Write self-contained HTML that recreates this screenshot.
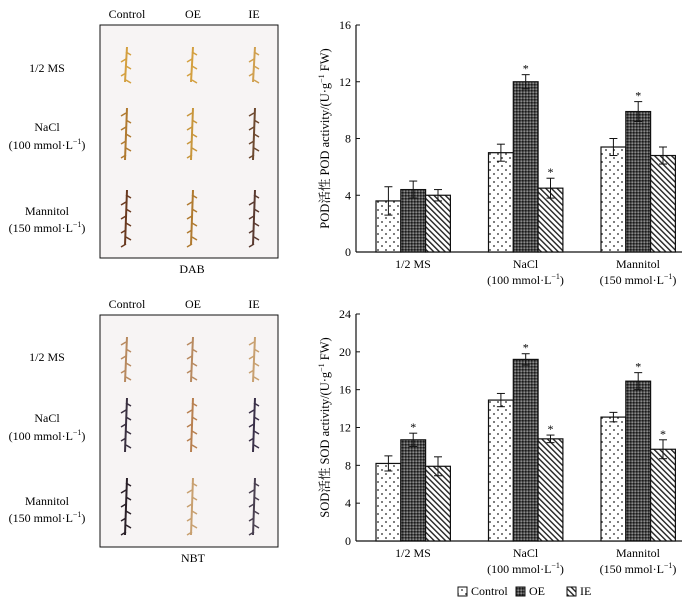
<!DOCTYPE html>
<html><head><meta charset="utf-8"><style>
body{margin:0;background:#fff;}
svg{display:block;font-family:"Liberation Serif","Noto Serif CJK SC",serif;}
</style></head><body>
<svg id="fig" width="700" height="604" viewBox="0 0 700 604">
<defs>
<pattern id="pDots" width="8" height="8" patternUnits="userSpaceOnUse"><rect width="8" height="8" fill="#fff"/><circle cx="2" cy="2" r="0.9" fill="#222"/><circle cx="6" cy="6" r="0.9" fill="#222"/></pattern>
<pattern id="pCross" width="3" height="3" patternUnits="userSpaceOnUse"><rect width="3" height="3" fill="#4a4a4a"/><rect width="1.5" height="1.5" fill="#1a1a1a"/><rect x="1.5" y="1.5" width="1.5" height="1.5" fill="#8a8a8a"/></pattern>
<pattern id="pDiag" width="4" height="4" patternUnits="userSpaceOnUse" patternTransform="rotate(-45)"><rect width="4" height="4" fill="#fff"/><rect width="1.4" height="4" fill="#222"/></pattern>
</defs>
<g>
<text x="127" y="18" font-size="12" text-anchor="middle">Control</text>
<text x="193" y="18" font-size="12" text-anchor="middle">OE</text>
<text x="254" y="18" font-size="12" text-anchor="middle">IE</text>
<rect x="100" y="25" width="178" height="233" fill="#f7f4f4" stroke="#111" stroke-width="1"/>
<text x="47" y="72" font-size="12" text-anchor="middle">1/2 MS</text>
<text x="47" y="131" font-size="12" text-anchor="middle">NaCl</text>
<text x="47" y="149" font-size="12" text-anchor="middle">(100 mmol·L<tspan font-size="8" dy="-5">−1</tspan><tspan dy="5">)</tspan></text>
<text x="47" y="215" font-size="12" text-anchor="middle">Mannitol</text>
<text x="47" y="232" font-size="12" text-anchor="middle">(150 mmol·L<tspan font-size="8" dy="-5">−1</tspan><tspan dy="5">)</tspan></text>
<text x="192" y="273" font-size="12" text-anchor="middle">DAB</text>
</g>
<g>
<text x="127" y="308" font-size="12" text-anchor="middle">Control</text>
<text x="193" y="308" font-size="12" text-anchor="middle">OE</text>
<text x="254" y="308" font-size="12" text-anchor="middle">IE</text>
<rect x="100" y="315" width="178" height="232" fill="#f7f4f4" stroke="#111" stroke-width="1"/>
<text x="47" y="361" font-size="12" text-anchor="middle">1/2 MS</text>
<text x="47" y="422" font-size="12" text-anchor="middle">NaCl</text>
<text x="47" y="440" font-size="12" text-anchor="middle">(100 mmol·L<tspan font-size="8" dy="-5">−1</tspan><tspan dy="5">)</tspan></text>
<text x="47" y="505" font-size="12" text-anchor="middle">Mannitol</text>
<text x="47" y="522" font-size="12" text-anchor="middle">(150 mmol·L<tspan font-size="8" dy="-5">−1</tspan><tspan dy="5">)</tspan></text>
<text x="193" y="562" font-size="12" text-anchor="middle">NBT</text>
</g>
<g id="seedlings"></g>
<g id="chartTop"></g>
<g id="chartBot"></g>
<g>
<rect x="458" y="587" width="9" height="9" fill="url(#pDots)" stroke="#111"/>
<text x="471" y="595" font-size="12">Control</text>
<rect x="516" y="587" width="9" height="9" fill="url(#pCross)" stroke="#111"/>
<text x="529" y="595" font-size="12">OE</text>
<rect x="567" y="587" width="9" height="9" fill="url(#pDiag)" stroke="#111"/>
<text x="580" y="595" font-size="12">IE</text>
</g>
</svg>
<script>
const groups=["1/2 MS","NaCl","Mannitol"];
const groupSub=["","(100 mmol·L","(150 mmol·L"];
const podCtrl=[3.6,7.0,7.4], podOE=[4.4,12.0,9.9], podIE=[4.0,4.5,6.8];
const podCtrlErr=[1.0,0.6,0.6], podOEErr=[0.6,0.5,0.7], podIEErr=[0.4,0.7,0.6];
const podStar=[[0,0,0],[0,1,1],[0,1,0]];
const podTicks=[0,4,8,12,16];
const sodCtrl=[8.2,14.9,13.1], sodOE=[10.7,19.2,16.9], sodIE=[7.9,10.8,9.7];
const sodCtrlErr=[0.8,0.7,0.5], sodOEErr=[0.7,0.6,0.9], sodIEErr=[1.0,0.4,1.0];
const sodStar=[[0,1,0],[0,1,1],[0,1,1]];
const sodTicks=[0,4,8,12,16,20,24];
const NS="http://www.w3.org/2000/svg";
function mk(p,t,a){const e=document.createElementNS(NS,t);for(const k in a)e.setAttribute(k,a[k]);p.appendChild(e);return e;}
function chart(g,y0,y1,max,ticks,series,errs,stars,title,name){
  const ax=356,ex=682;
  const sy=v=>y0-(v/max)*(y0-y1);
  mk(g,'line',{x1:ax,y1:y1,x2:ax,y2:y0,stroke:'#111','stroke-width':1.2});
  mk(g,'line',{x1:ax,y1:y0,x2:ex,y2:y0,stroke:'#111','stroke-width':1.2});
  ticks.forEach(t=>{const y=sy(t);
    mk(g,'line',{x1:ax,y1:y,x2:ax+4,y2:y,stroke:'#111'});
    const tx=mk(g,'text',{x:ax-5,y:y+4,'font-size':12,'text-anchor':'end'});tx.textContent=t;
    
    });
  const fills=['url(#pDots)','url(#pCross)','url(#pDiag)'];
  const sn=['control','oe','ie'];
  groups.forEach((gn,i)=>{
    const gx=376+i*112.5;
    series.forEach((s,j)=>{
      const x=gx+j*24.8, w=24.8, y=sy(s[i]);
      const r=mk(g,'rect',{x:x,y:y,width:w,height:y0-y,fill:fills[j],stroke:'#111','stroke-width':1.2});
      
      
      const cx=x+w/2, e=errs[j][i], yt=sy(s[i]+e), yb=sy(s[i]-e);
      mk(g,'line',{x1:cx,y1:yt,x2:cx,y2:yb,stroke:'#111'});
      mk(g,'line',{x1:cx-4,y1:yt,x2:cx+4,y2:yt,stroke:'#111'});
      mk(g,'line',{x1:cx-4,y1:yb,x2:cx+4,y2:yb,stroke:'#111'});
      if(stars[i][j]){const st=mk(g,'text',{x:cx,y:yt-2,'font-size':12,'text-anchor':'middle'});st.textContent='*';
        
        }
    });
    const cx=gx+37;
    const l=mk(g,'text',{x:cx,y:y0+16,'font-size':12,'text-anchor':'middle'});l.textContent=gn;
    
    
    if(groupSub[i]){const l2=mk(g,'text',{x:cx,y:y0+32,'font-size':12,'text-anchor':'middle'});
      l2.textContent=groupSub[i];const s1=mk(l2,'tspan',{'font-size':8,dy:-5});s1.textContent='−1';
      const s2=mk(l2,'tspan',{dy:5});s2.textContent=')';}
  });
  const tt=mk(g,'text',{x:0,y:0,'font-size':12.5,'text-anchor':'middle',transform:`translate(${ax-27},${(y0+y1)/2}) rotate(-90)`});
  tt.textContent=title+' activity/(U·g';
  const a=mk(tt,'tspan',{'font-size':8,dy:-5});a.textContent='−1';
  const b=mk(tt,'tspan',{dy:5});b.textContent=' FW)';
  
  
}
const topG=document.getElementById('chartTop');


chart(topG,252,25,16,podTicks,[podCtrl,podOE,podIE],[podCtrlErr,podOEErr,podIEErr],podStar,'POD活性 POD','pod');
const botG=document.getElementById('chartBot');


chart(botG,541,314,24,sodTicks,[sodCtrl,sodOE,sodIE],[sodCtrlErr,sodOEErr,sodIEErr],sodStar,'SOD活性 SOD','sod');
const sd=document.getElementById('seedlings');


const cols=[127,193,255];
const dabRows=[[47,82],[108,160],[190,245]], nbtRows=[[337,382],[398,452],[478,535]];
const dabCol=[["#d4a040","#d4a040","#d0a050"],["#b07a30","#c8963c","#6e4a30"],["#6a3a20","#b07a30","#5a3a30"]];
const nbtCol=[["#b88a60","#b88a60","#c8a070"],["#3a3040","#b88050","#3a3048"],["#2a2028","#c8a070","#4a4050"]];
function plant(x,ya,yb,c){
  mk(sd,'line',{x1:x,y1:ya,x2:x-2,y2:yb,stroke:c,'stroke-width':2});
  for(let y=ya+5;y<yb;y+=7){const dx=((y/7)|0)%2?5:-5;mk(sd,'line',{x1:x-1,y1:y,x2:x-1+dx,y2:y+3,stroke:c,'stroke-width':1.5});}
}
dabRows.forEach((r,i)=>cols.forEach((x,j)=>plant(x,r[0],r[1],dabCol[i][j])));
nbtRows.forEach((r,i)=>cols.forEach((x,j)=>plant(x,r[0],r[1],nbtCol[i][j])));
</script>
</body></html>
